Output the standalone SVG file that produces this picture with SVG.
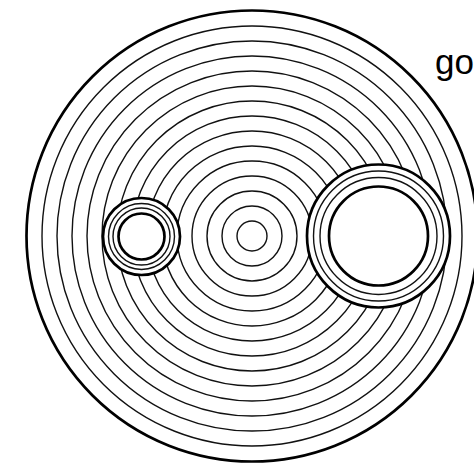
<svg xmlns="http://www.w3.org/2000/svg" width="474" height="463" viewBox="0 0 474 463">
<style>
.thin{fill:none;stroke:#111;stroke-width:1.4}
.thick{fill:none;stroke:#000;stroke-width:2.7}
.hole{fill:#fff;stroke:#000;stroke-width:2.7}
.lbl{font-family:"Liberation Sans",Arial,sans-serif;font-size:35px;fill:#000}
</style>
<rect width="474" height="463" fill="#fff"/>
<g id="rings">
<circle cx="252" cy="236" r="225.5" class="thick"/>
<circle cx="252" cy="236" r="210" class="thin"/>
<circle cx="252" cy="236" r="195" class="thin"/>
<circle cx="252" cy="236" r="180" class="thin"/>
<circle cx="252" cy="236" r="165" class="thin"/>
<circle cx="252" cy="236" r="150" class="thin"/>
<circle cx="252" cy="236" r="135" class="thin"/>
<circle cx="252" cy="236" r="120" class="thin"/>
<circle cx="252" cy="236" r="105" class="thin"/>
<circle cx="252" cy="236" r="90" class="thin"/>
<circle cx="252" cy="236" r="75" class="thin"/>
<circle cx="252" cy="236" r="60" class="thin"/>
<circle cx="252" cy="236" r="45" class="thin"/>
<circle cx="252" cy="236" r="30" class="thin"/>
<circle cx="252" cy="236" r="15" class="thin"/>
</g>
<g id="small">
<circle cx="141.5" cy="236.5" r="38.5" class="hole"/>
<circle cx="141.5" cy="236.5" r="33" class="thin"/>
<circle cx="141.5" cy="236.5" r="28.5" class="thin"/>
<circle cx="141.5" cy="236.5" r="23" class="thick"/>
</g>
<g id="large">
<circle cx="378.5" cy="236" r="71.5" class="hole"/>
<circle cx="378.5" cy="236" r="65" class="thin"/>
<circle cx="378.5" cy="236" r="58.5" class="thin"/>
<circle cx="378.5" cy="236" r="49.5" class="thick"/>
</g>
<text class="lbl" x="435" y="74">go</text>
</svg>
